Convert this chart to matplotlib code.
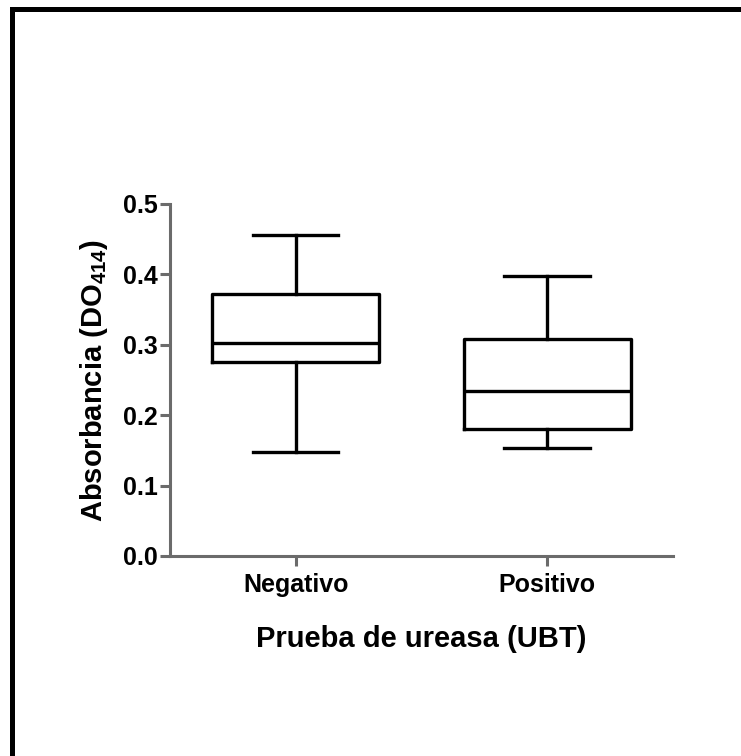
import matplotlib
matplotlib.use('Agg')
import matplotlib.pyplot as plt
from matplotlib.lines import Line2D

plt.rcParams['font.family'] = ['Liberation Sans', 'DejaVu Sans']
plt.rcParams['font.weight'] = 'bold'
plt.rcParams['mathtext.fontset'] = 'custom'
plt.rcParams['mathtext.rm'] = 'Liberation Sans:bold'
plt.rcParams['mathtext.default'] = 'rm'

# values
groups = ['Negativo', 'Positivo']
whis_lo = [0.148, 0.154]
q1 = [0.276, 0.181]
median = [0.302, 0.234]
q3 = [0.372, 0.308]
whis_hi = [0.456, 0.397]

stats = []
for i in range(len(groups)):
    stats.append({'label': groups[i], 'whislo': whis_lo[i], 'q1': q1[i],
                  'med': median[i], 'q3': q3[i], 'whishi': whis_hi[i]})

fig = plt.figure(figsize=(7.41, 7.56), dpi=100)
ax = fig.add_axes([0.2294, 0.2646, 0.6788, 0.4656])

lw = 2.4
ax.bxp(stats, positions=[1, 2], widths=0.665, capwidths=0.34, showfliers=False,
       boxprops=dict(color='black', linewidth=lw),
       whiskerprops=dict(color='black', linewidth=lw),
       capprops=dict(color='black', linewidth=lw),
       medianprops=dict(color='black', linewidth=lw))

ax.set_xlim(0.5, 2.5)
ax.set_ylim(0, 0.5)
ax.set_yticks([0.0, 0.1, 0.2, 0.3, 0.4, 0.5])
ax.set_yticklabels(['0.0', '0.1', '0.2', '0.3', '0.4', '0.5'])
ax.set_xticks([1, 2])
ax.set_xticklabels(groups)

gray = '#6b6b6b'
for s in ['top', 'right']:
    ax.spines[s].set_visible(False)
for s in ['left', 'bottom']:
    ax.spines[s].set_color(gray)
    ax.spines[s].set_linewidth(2.2)
ax.tick_params(axis='both', direction='out', length=7.5, width=2.2, color=gray,
               labelsize=18, pad=1.5)
ax.tick_params(axis='x', pad=5)
for lab in ax.get_xticklabels() + ax.get_yticklabels():
    lab.set_fontweight('bold')

ax.set_xlabel('Prueba de ureasa (UBT)', fontsize=21, fontweight='bold', labelpad=20)
ax.set_ylabel('Absorbancia (DO$_{414}$)', fontsize=21, fontweight='bold', labelpad=9)

# frame seen along the top and left edge of the picture
fig.add_artist(Line2D([0.0162, 1.0], [0.9887, 0.9887], transform=fig.transFigure,
                      color='black', linewidth=3.6, solid_capstyle='projecting'))
fig.add_artist(Line2D([0.0162, 0.0162], [0.0, 0.9887], transform=fig.transFigure,
                      color='black', linewidth=3.6, solid_capstyle='projecting'))

fig.savefig('out.png', dpi=100)
